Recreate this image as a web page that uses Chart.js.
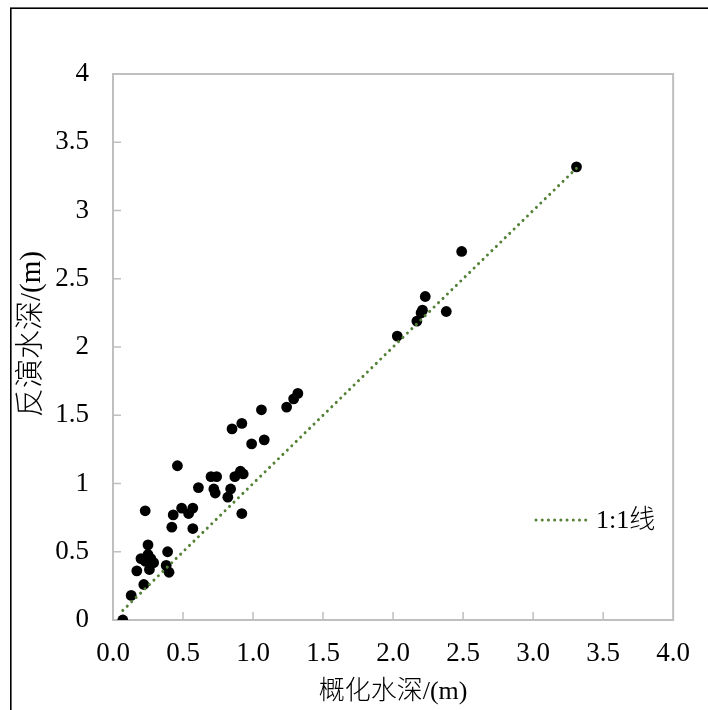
<!DOCTYPE html>
<html>
<head>
<meta charset="utf-8">
<script src="https://cdn.jsdelivr.net/npm/chart.js@4.4.1/dist/chart.umd.min.js"></script>
<style>
  html, body { margin: 0; padding: 0; background: #ffffff; }
  #wrap { width: 708px; height: 710px; }
</style>
</head>
<body>
<div id="wrap"><canvas id="c" width="708" height="710"></canvas></div>
<script>
// ---- data ----
const xValues = [0.07, 0.13, 0.22, 0.17, 0.20, 0.25, 0.25, 0.26, 0.29, 0.23, 0.27,
  0.23, 0.39, 0.38, 0.40, 0.42, 0.43, 0.46, 0.49, 0.54, 0.57, 0.57, 0.61,
  0.70, 0.74, 0.72, 0.73, 0.84, 0.82, 0.85, 0.92, 0.87, 0.91, 0.93, 0.92,
  0.99, 1.06, 1.08, 1.24, 1.29, 1.32,
  2.03, 2.17, 2.20, 2.21, 2.23, 2.38, 2.49, 3.31];
const yValues = [0.00, 0.18, 0.26, 0.36, 0.45, 0.55, 0.48, 0.37, 0.42, 0.43, 0.45,
  0.80, 0.50, 0.40, 0.35, 0.68, 0.77, 1.13, 0.82, 0.78, 0.82, 0.67, 0.97,
  1.05, 1.05, 0.96, 0.93, 0.96, 0.90, 1.40, 1.44, 1.05, 1.09, 1.07, 0.78,
  1.29, 1.54, 1.32, 1.56, 1.62, 1.66,
  2.08, 2.19, 2.25, 2.27, 2.37, 2.26, 2.70, 3.32];
const lineX = [0.07, 3.31];
const lineY = [0.07, 3.31];
const xTickLabels = ['0.0', '0.5', '1.0', '1.5', '2.0', '2.5', '3.0', '3.5', '4.0'];
const yTickLabels = ['0', '0.5', '1', '1.5', '2', '2.5', '3', '3.5', '4'];
const xTitle = '概化水深/(m)';
const yTitle = '反演水深/(m)';
const lineLabel = '1:1线';

const FONT = '"Liberation Serif", "Times New Roman", "Noto Sans CJK SC", serif';
const AXIS_GRAY = '#bfbfbf';
const GREEN = '#538135';

const pointData = xValues.map((x, i) => ({ x: x, y: yValues[i] }));
const lineData = lineX.map((x, i) => ({ x: x, y: lineY[i] }));

const decorPlugin = {
  id: 'decor',
  beforeDraw(chart) {
    const ctx = chart.ctx;
    ctx.save();
    ctx.fillStyle = '#ffffff';
    ctx.fillRect(0, 0, chart.width, chart.height);
    // outer frame
    ctx.strokeStyle = '#000000';
    ctx.lineWidth = 1.6;
    ctx.strokeRect(10.8, 8.2, 900, 900);
    ctx.restore();
  },
  beforeDatasetsDraw(chart) {
    const ctx = chart.ctx;
    const a = chart.chartArea;
    const xs = chart.scales.x, ys = chart.scales.y;
    ctx.save();
    ctx.strokeStyle = AXIS_GRAY;
    ctx.lineWidth = 2;
    ctx.strokeRect(a.left, a.top, a.right - a.left, a.bottom - a.top);
    ctx.lineWidth = 1.5;
    ctx.beginPath();
    xs.ticks.forEach(t => {
      const px = xs.getPixelForValue(t.value);
      if (t.value > xs.min && t.value < xs.max) {
        ctx.moveTo(px, a.bottom);
        ctx.lineTo(px, a.bottom - 8);
      }
    });
    ys.ticks.forEach(t => {
      const py = ys.getPixelForValue(t.value);
      if (t.value > ys.min && t.value < ys.max) {
        ctx.moveTo(a.left, py);
        ctx.lineTo(a.left + 8, py);
      }
    });
    ctx.stroke();
    ctx.restore();
  },
  afterDraw(chart) {
    const ctx = chart.ctx;
    const ds = chart.data.datasets[0];
    ctx.save();
    // legend sample
    ctx.strokeStyle = ds.borderColor;
    ctx.lineWidth = ds.borderWidth;
    ctx.lineCap = 'round';
    ctx.setLineDash(ds.borderDash);
    ctx.beginPath();
    ctx.moveTo(536, 520);
    ctx.lineTo(590, 520);
    ctx.stroke();
    ctx.setLineDash([]);
    ctx.fillStyle = '#000000';
    ctx.font = '300 26px ' + FONT;
    ctx.textBaseline = 'middle';
    ctx.textAlign = 'left';
    ctx.fillText(ds.label, 596, 521);
    // y axis title (rotated)
    ctx.translate(32, 334);
    ctx.rotate(-Math.PI / 2);
    ctx.textAlign = 'center';
    ctx.font = '300 29px ' + FONT;
    ctx.fillText(yTitle, 0, 0);
    ctx.restore();
  }
};

new Chart(document.getElementById('c'), {
  type: 'scatter',
  data: {
    datasets: [
      {
        type: 'line',
        label: lineLabel,
        data: lineData,
        borderColor: GREEN,
        borderWidth: 3,
        borderDash: [0.01, 6.2],
        borderCapStyle: 'round',
        pointRadius: 0,
        fill: false,
        order: 0
      },
      {
        label: 'points',
        data: pointData,
        backgroundColor: '#000000',
        borderColor: '#000000',
        borderWidth: 0,
        pointRadius: 5.4,
        pointHoverRadius: 5.4,
        order: 1
      }
    ]
  },
  options: {
    responsive: false,
    maintainAspectRatio: false,
    animation: false,
    events: [],
    layout: { padding: { left: 0, top: 74, right: 29, bottom: 0 } },
    plugins: { legend: { display: false }, tooltip: { enabled: false } },
    scales: {
      x: {
        type: 'linear', min: 0, max: 4,
        grid: { display: false, drawTicks: false },
        border: { display: false },
        ticks: {
          stepSize: 0.5, padding: 18, color: '#000000',
          font: { family: FONT, size: 27 },
          maxRotation: 0, autoSkip: false,
          callback: (v, i) => xTickLabels[i]
        },
        title: { display: true, text: xTitle, color: '#000000',
          font: { family: FONT, size: 26, weight: 300 }, padding: { top: 0, bottom: 2 } },
        afterFit: s => { s.height = 90; }
      },
      y: {
        type: 'linear', min: 0, max: 4,
        grid: { display: false, drawTicks: false },
        border: { display: false },
        ticks: {
          stepSize: 0.5, padding: 24, color: '#000000',
          font: { family: FONT, size: 27 },
          autoSkip: false,
          callback: (v, i) => yTickLabels[i]
        },
        title: { display: false },
        afterFit: s => { s.width = 113; }
      }
    }
  },
  plugins: [decorPlugin]
});
</script>
</body>
</html>
